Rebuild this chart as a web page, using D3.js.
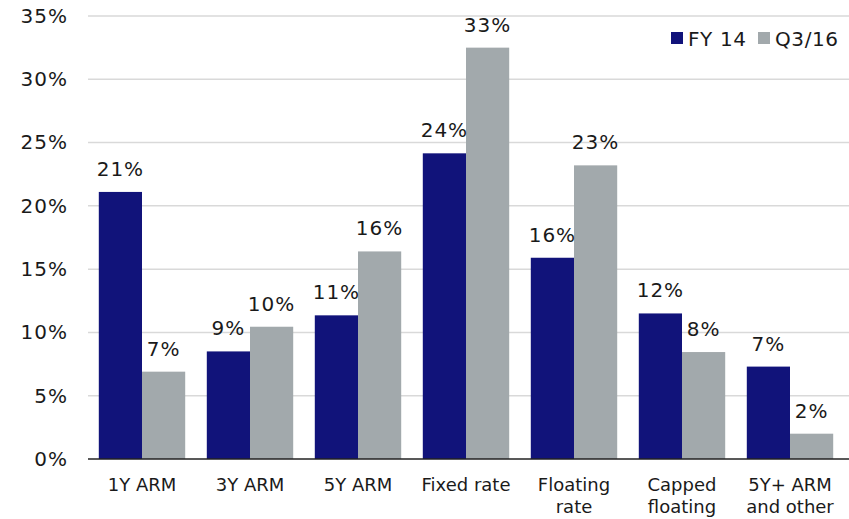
<!DOCTYPE html>
<html>
<head>
<meta charset="utf-8">
<script src="https://cdn.jsdelivr.net/npm/d3@7"></script>
<style>
  body { margin: 0; background: #fff; }
  text { font-family: "DejaVu Sans", Verdana, sans-serif; fill: #1a1a1a; }
</style>
</head>
<body>
<script>
// Data
var categories = [["1Y ARM"], ["3Y ARM"], ["5Y ARM"], ["Fixed rate"], ["Floating", "rate"], ["Capped", "floating"], ["5Y+ ARM", "and other"]];
var seriesNames = ["FY 14", "Q3/16"];
var fy14 = [21.1, 8.5, 11.35, 24.15, 15.9, 11.5, 7.3];
var q316 = [6.9, 10.45, 16.4, 32.5, 23.2, 8.45, 2.0];
var fy14Labels = ["21%", "9%", "11%", "24%", "16%", "12%", "7%"];
var q316Labels = ["7%", "10%", "16%", "33%", "23%", "8%", "2%"];
var yTicks = [0, 5, 10, 15, 20, 25, 30, 35];

var colors = ["#11137a", "#a2a9ac"];

var width = 849, height = 519;
var svg = d3.select("body").append("svg").attr("width", width).attr("height", height);

// Skalaer
var x0 = d3.scaleBand()
  .domain(d3.range(categories.length))
  .range([88, 844])
  .paddingInner(0.2)
  .paddingOuter(0.1);

var x1 = d3.scaleBand()
  .domain([0, 1])
  .range([0, x0.bandwidth()]);

var y = d3.scaleLinear().domain([0, 35]).range([459, 16]);

// Gitterlinjer
svg.append("g").selectAll("line")
  .data(yTicks.slice(1))
  .enter().append("line")
  .attr("x1", 88).attr("x2", width)
  .attr("y1", function(d) { return y(d); })
  .attr("y2", function(d) { return y(d); })
  .attr("stroke", "#d9d9d9")
  .attr("stroke-width", 1.5);

// Y-akse labels
var yAxis = d3.axisLeft(y).tickValues(yTicks).tickSize(0).tickPadding(20)
  .tickFormat(function(d) { return d + "%"; });
var yg = svg.append("g").attr("transform", "translate(88,0)").call(yAxis);
yg.select(".domain").remove();
yg.selectAll("text").style("font-size", "20px").attr("fill", "#1a1a1a")
  .style("letter-spacing", "1px")
  .style("font-family", "\"DejaVu Sans\", Verdana, sans-serif");

// Søjler
var rows = categories.map(function(c, i) {
  return [
    { cat: i, s: 0, v: fy14[i], label: fy14Labels[i] },
    { cat: i, s: 1, v: q316[i], label: q316Labels[i] }
  ];
});

var groups = svg.selectAll(".grp")
  .data(rows)
  .enter().append("g")
  .attr("class", "grp")
  .attr("transform", function(d, i) { return "translate(" + x0(i) + ",0)"; });

groups.selectAll("rect")
  .data(function(d) { return d; })
  .enter().append("rect")
  .attr("x", function(d) { return x1(d.s); })
  .attr("y", function(d) { return y(d.v); })
  .attr("width", x1.bandwidth())
  .attr("height", function(d) { return y(0) - y(d.v); })
  .attr("fill", function(d) { return colors[d.s]; });

groups.selectAll(".val")
  .data(function(d) { return d; })
  .enter().append("text")
  .attr("class", "val")
  .attr("x", function(d) { return x1(d.s) + x1.bandwidth() / 2; })
  .attr("y", function(d) { return y(d.v) - 16; })
  .attr("text-anchor", "middle")
  .style("font-size", "20px")
  .style("letter-spacing", "1px")
  .text(function(d) { return d.label; });

// Basislinje
svg.append("line")
  .attr("x1", 88).attr("x2", width)
  .attr("y1", y(0)).attr("y2", y(0))
  .attr("stroke", "#222").attr("stroke-width", 1.5);

// Kategorier
var catText = svg.selectAll(".cat")
  .data(categories)
  .enter().append("text")
  .attr("class", "cat")
  .attr("text-anchor", "middle")
  .attr("x", function(d, i) { return x0(i) + x0.bandwidth() / 2; })
  .attr("y", 491)
  .style("font-size", "18px");

catText.selectAll("tspan")
  .data(function(d) { return d; })
  .enter().append("tspan")
  .attr("x", function() { return d3.select(this.parentNode).attr("x"); })
  .attr("dy", function(d, i) { return i === 0 ? 0 : 22; })
  .text(function(d) { return d; });

// Legende
var legendX = [671, 758];
var legend = svg.selectAll(".leg")
  .data(seriesNames)
  .enter().append("g")
  .attr("class", "leg")
  .attr("transform", function(d, i) { return "translate(" + legendX[i] + ",32)"; });

legend.append("rect")
  .attr("width", 12).attr("height", 12)
  .attr("fill", function(d, i) { return colors[i]; });

legend.append("text")
  .attr("x", 17).attr("y", 14)
  .style("font-size", "20px")
  .style("letter-spacing", "0.6px")
  .text(function(d) { return d; });
</script>
</body>
</html>
